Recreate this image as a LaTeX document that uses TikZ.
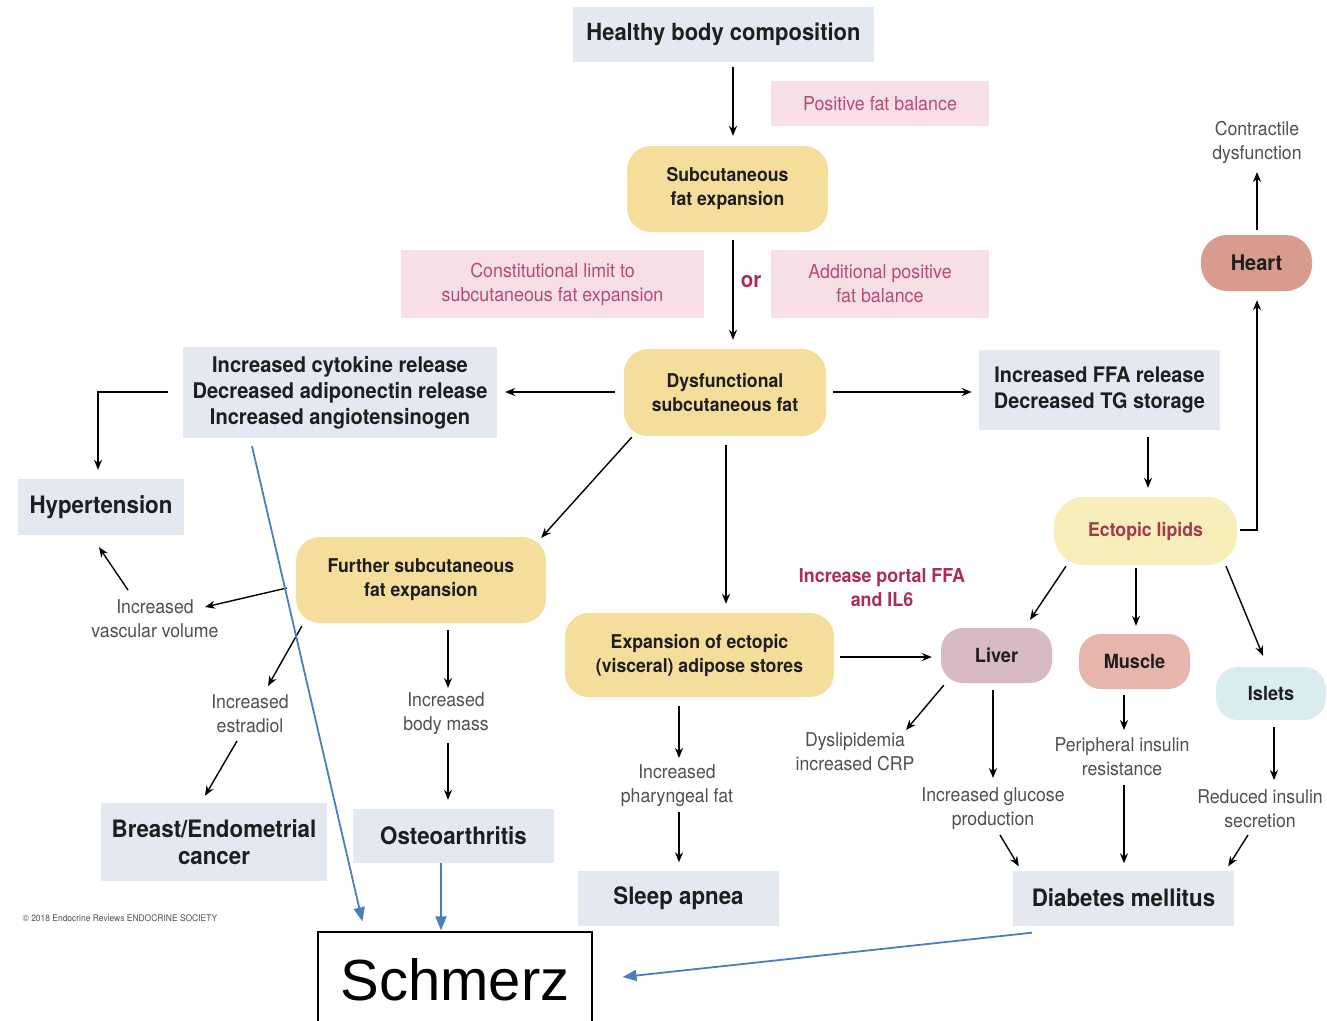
\documentclass[tikz,border=0pt]{standalone}
\usepackage{fontspec}
\setmainfont[FakeStretch=0.93]{TeX Gyre Heros}
\newfontfamily\arialfont{Liberation Sans}
\usetikzlibrary{arrows.meta,calc}
\newcommand\myfs[2]{\fontsize{#1}{#2}\selectfont}
\definecolor{boxgrey}{HTML}{E4E8F0}
\definecolor{pinkfill}{HTML}{F6DFE5}
\definecolor{pinktxt}{HTML}{B8497C}
\definecolor{pinkbold}{HTML}{AE2A5C}
\definecolor{yellowfill}{HTML}{F5DD9B}
\definecolor{ectfill}{HTML}{F7EEB9}
\definecolor{ecttxt}{HTML}{A5384D}
\definecolor{heartfill}{HTML}{D89C8F}
\definecolor{liverfill}{HTML}{D7BAC4}
\definecolor{musclefill}{HTML}{E8B5AC}
\definecolor{isletfill}{HTML}{D9ECEE}
\definecolor{graytxt}{HTML}{505050}
\definecolor{darktxt}{HTML}{1E1E1E}
\definecolor{bluecol}{HTML}{4A7EC0}
\begin{document}
\begin{tikzpicture}[x=1pt,y=-1pt,
  sz/.style 2 args={minimum width=#1, minimum height=#2},
  base/.style={inner sep=0pt, align=center, text=darktxt},
  greybox/.style={base, fill=boxgrey},
  pinkbox/.style={base, fill=pinkfill, text=pinktxt},
  yellowbox/.style={base, fill=yellowfill, rounded corners=24pt},
  organ/.style={base, rounded corners=22pt},
  lbl/.style={inner sep=1pt, align=center, text=graytxt},
  arr/.style={line width=1.4pt, draw=black, -{Stealth[length=10pt,width=8pt]}},
  bluearr/.style={line width=1.8pt, draw=bluecol, -{Triangle[length=14pt,width=11pt]}}
]
\useasboundingbox (0,0) rectangle (1327,1020);
\fill[white] (0,0) rectangle (1327,1020);

% top chain
\node[greybox, sz={301pt}{55pt}, font=\bfseries\myfs{23.6}{28}] (hbc) at (723.5,34) {Healthy body composition};
\node[pinkbox, sz={218pt}{45pt}, font=\myfs{19.2}{24}] (pfb) at (880,103.5) {Positive fat balance};
\node[yellowbox, sz={201pt}{86pt}, font=\bfseries\myfs{19}{24}] (sfe) at (727.5,189) {Subcutaneous\\fat expansion};
\node[pinkbox, sz={303pt}{68pt}, font=\myfs{19.2}{24}] (clim) at (552.5,284) {Constitutional limit to\\subcutaneous fat expansion};
\node[pinkbox, sz={218pt}{68pt}, font=\myfs{19.2}{24}] (apf) at (880,284) {Additional positive\\fat balance};
\node[inner sep=0pt, text=pinkbold, font=\bfseries\myfs{22}{26}] (or) at (751,282) {or};
\node[yellowbox, sz={202pt}{87pt}, font=\bfseries\myfs{19}{24}] (dsf) at (725,392.5) {Dysfunctional\\subcutaneous fat};

% second level
\node[greybox, sz={314pt}{91pt}, font=\bfseries\myfs{21.6}{26}] (cyto) at (340,392.5) {Increased cytokine release\\Decreased adiponectin release\\Increased angiotensinogen};
\node[greybox, sz={241pt}{80pt}, font=\bfseries\myfs{21.4}{26}] (ffa) at (1099.5,390) {Increased FFA release\\Decreased TG storage};
\node[greybox, sz={166pt}{56pt}, font=\bfseries\myfs{24}{28}] (hyp) at (101,507) {Hypertension};
\node[yellowbox, sz={250pt}{86pt}, font=\bfseries\myfs{19}{24}] (fsfe) at (421,580) {Further subcutaneous\\fat expansion};
\node[yellowbox, sz={269pt}{84pt}, font=\bfseries\myfs{19}{24}] (exp) at (699.5,655) {Expansion of ectopic\\(visceral) adipose stores};

% right side
\node[organ, fill=ectfill, text=ecttxt, sz={183pt}{68pt}, rounded corners=30pt, font=\bfseries\myfs{19}{24}] (ect) at (1145.5,531) {Ectopic lipids};
\node[organ, fill=heartfill, sz={111pt}{56pt}, rounded corners=26pt, font=\bfseries\myfs{21.5}{24}] (heart) at (1256.5,263) {Heart};
\node[lbl, font=\myfs{19}{24}] (contr) at (1257,142) {Contractile\\dysfunction};
\node[inner sep=0pt, align=center, text=pinkbold, font=\bfseries\myfs{19.2}{24}] (portal) at (882,588) {Increase portal FFA\\and IL6};
\node[organ, fill=liverfill, sz={111pt}{55pt}, font=\bfseries\myfs{19.5}{24}] (liver) at (996.5,655.5) {Liver};
\node[organ, fill=musclefill, sz={111pt}{55pt}, font=\bfseries\myfs{19.5}{24}] (muscle) at (1134.5,661.5) {Muscle};
\node[organ, fill=isletfill, sz={110pt}{53pt}, font=\bfseries\myfs{19.5}{24}] (islets) at (1271,693.5) {Islets};
\node[lbl, font=\myfs{19}{24}] (dysl) at (855,752) {Dyslipidemia\\increased CRP};
\node[lbl, font=\myfs{19}{24}] (glu) at (993,809) {Increased glucose\\production};
\node[lbl, font=\myfs{19}{24}] (peri) at (1122,757) {Peripheral insulin\\resistance};
\node[lbl, font=\myfs{19}{24}] (red) at (1260,809) {Reduced insulin\\secretion};
\node[greybox, sz={221pt}{55pt}, font=\bfseries\myfs{24}{28}] (dm) at (1123.5,898) {Diabetes mellitus};

% left / bottom
\node[lbl, font=\myfs{19}{24}] (vasc) at (155,619) {Increased\\vascular volume};
\node[lbl, font=\myfs{19}{24}] (estr) at (250,714) {Increased\\estradiol};
\node[greybox, sz={226pt}{78pt}, font=\bfseries\myfs{24}{27}] (breast) at (214,842) {Breast/Endometrial\\cancer};
\node[lbl, font=\myfs{19}{24}] (bmass) at (446,714) {Increased\\body mass};
\node[greybox, sz={201pt}{54pt}, font=\bfseries\myfs{24}{28}] (osteo) at (453.5,836) {Osteoarthritis};
\node[lbl, font=\myfs{19}{24}] (phar) at (677,786) {Increased\\pharyngeal fat};
\node[greybox, sz={201pt}{55pt}, font=\bfseries\myfs{24}{28}] (sleep) at (678.5,898) {Sleep apnea};
\node[inner sep=0pt, text=graytxt, font=\myfs{9.1}{11}] (copy) at (120,918) {\textcopyright{} 2018 Endocrine Reviews ENDOCRINE SOCIETY};
\node[draw=black, line width=1.2pt, fill=white, inner sep=0pt, sz={274pt}{96pt}, font=\arialfont\myfs{58}{64}] (schmerz) at (455,980) {Schmerz};

% black connectors
\draw[arr] ($(hbc.south)+(9.5,5)$) -- ($(sfe.north)+(5.5,-10)$);
\draw[arr] ($(sfe.south)+(5.5,8)$) -- ($(dsf.north)+(8,-9)$);
\draw[arr] ($(dsf.west)+(-9,-0.5)$) -- ($(cyto.east)+(8,-0.5)$);
\draw[arr] ($(dsf.east)+(7,-0.5)$) -- ($(ffa.west)+(-7,2)$);
\draw[arr] ($(cyto.west)+(-15,-0.5)$) -| ($(hyp.north)+(-3,-9)$);
\draw[arr] ($(dsf.south west)+(8,1)$) -- ($(fsfe.north east)+(-5,1)$);
\draw[arr] ($(dsf.south)+(1,9)$) -- ($(exp.north)+(26.5,-9)$);
\draw[arr] ($(ffa.south)+(48.5,7)$) -- ($(ect.north)+(2.5,-9)$);
\draw[arr] ($(ect.east)+(3,-1)$) -| ($(heart.south)+(0.5,9)$);
\draw[arr] ($(heart.north)+(0.5,-5)$) -- ($(contr.center)+(0,30)$);
\draw[arr] ($(exp.east)+(6,2)$) -- ($(liver.west)+(-9,1.5)$);
\draw[arr] ($(ect.south)+(-79.5,1)$) -- ($(liver.north)+(33.5,-8)$);
\draw[arr] ($(ect.south)+(-9.5,3)$) -- ($(muscle.north)+(1.5,-8)$);
\draw[arr] ($(ect.south)+(80.5,1)$) -- ($(islets.north)+(-8,-11)$);
\draw[arr] ($(liver.south west)+(3,2)$) -- ($(dysl.center)+(51,-22)$);
\draw[arr] ($(liver.south)+(-3.5,7)$) -- ($(glu.center)+(0,-31)$);
\draw[arr] ($(muscle.south)+(-10.5,6)$) -- ($(peri.center)+(2,-27)$);
\draw[arr] ($(islets.south)+(3,7)$) -- ($(red.center)+(14,-29)$);
\draw[arr] ($(glu.center)+(7,26)$) -- ($(dm.north west)+(6,-4)$);
\draw[arr] ($(peri.center)+(2,28)$) -- ($(dm.north)+(0.5,-7)$);
\draw[arr] ($(red.center)+(-12,26)$) -- ($(dm.north east)+(-6,-4)$);
\draw[arr] ($(fsfe.west)+(-9,8)$) -- ($(vasc.center)+(50,-12)$);
\draw[arr] ($(vasc.center)+(-27,-29)$) -- ($(hyp.south)+(-2,12)$);
\draw[arr] ($(fsfe.south west)+(6,3)$) -- ($(estr.center)+(18,-28)$);
\draw[arr] ($(estr.center)+(-13,27)$) -- ($(breast.north)+(-9,-7)$);
\draw[arr] ($(fsfe.south)+(27,7)$) -- ($(bmass.center)+(2,-26)$);
\draw[arr] ($(bmass.center)+(2,29)$) -- ($(osteo.north)+(-5.5,-9)$);
\draw[arr] ($(exp.south)+(-20.5,9)$) -- ($(phar.center)+(2,-28)$);
\draw[arr] ($(phar.center)+(2,26)$) -- ($(sleep.north)+(0.5,-8)$);

% blue connectors
\draw[bluearr] ($(cyto.south)+(-88,8)$) -- ($(schmerz.north west)+(45,-10)$);
\draw[bluearr] ($(osteo.south)+(-12.5,0)$) -- ($(schmerz.north)+(-14,-1)$);
\draw[bluearr] ($(dm.south west)+(19,7)$) -- ($(schmerz.east)+(30,-3)$);
\end{tikzpicture}
\end{document}
